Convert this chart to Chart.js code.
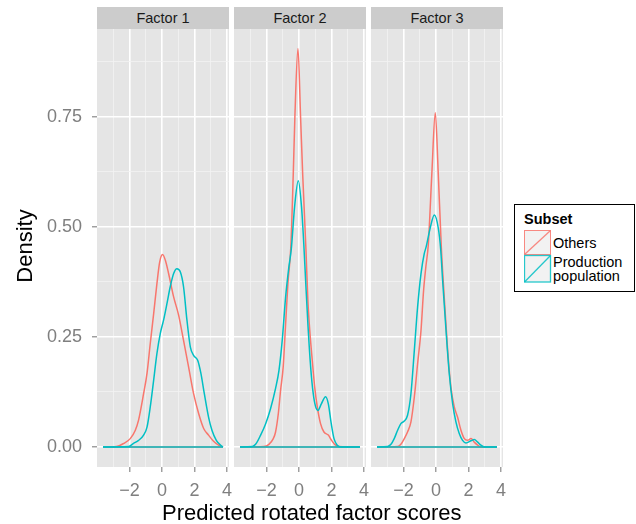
<!DOCTYPE html>
<html>
<head>
<meta charset="utf-8">
<script src="https://cdn.jsdelivr.net/npm/chart.js@4.4.1/dist/chart.umd.min.js"></script>
<style>
  body { margin: 0; background: #fff; font-family: "Liberation Sans", Arial, sans-serif; }
  #page { position: relative; width: 636px; height: 524px; overflow: hidden; }
  .abs { position: absolute; white-space: nowrap; }
  .strip { top: 7px; width: 132px; height: 22px; line-height: 22px; background: #CCCCCC;
           text-align: center; font-size: 14.5px; color: #1A1A1A; }
  .panel { position: absolute; top: 29px; height: 495px; }
  .leg { font-size: 14.5px; line-height: 14.5px; color: #000; }
</style>
</head>
<body>
<div id="page">
  <div class="abs strip" style="left:97px">Factor 1</div>
  <div class="abs strip" style="left:234px">Factor 2</div>
  <div class="abs strip" style="left:371px">Factor 3</div>

  <div class="panel" style="left:0px; width:235px"><canvas id="panel1"></canvas></div>
  <div class="panel" style="left:228px; width:144px"><canvas id="panel2"></canvas></div>
  <div class="panel" style="left:365px; width:144px"><canvas id="panel3"></canvas></div>

  <div class="abs" style="left:-35px; top:235px; width:120px; height:22px; line-height:22px; font-size:22px;
       text-align:center; transform: rotate(-90deg);">Density</div>
  <div class="abs" style="left:162px; top:502px; line-height:22px; font-size:22px;">Predicted rotated factor scores</div>

  <div class="abs" style="left:514px; top:204px; width:121px; height:88px; box-sizing:border-box; border:1.5px solid #000;"></div>
  <div class="abs leg" style="left:524px; top:212px; font-weight:bold;">Subset</div>
  <svg class="abs" style="left:524px; top:230px" width="28" height="53">
    <rect x="0.5" y="0.5" width="26" height="24" fill="#F2F2F2" stroke="#F8766D" stroke-opacity="0.85"/>
    <line x1="0.5" y1="24.5" x2="26.5" y2="0.5" stroke="#F8766D" stroke-width="1.3" stroke-opacity="0.85"/>
    <rect x="0.5" y="25.5" width="26" height="26.5" fill="#F2F2F2" stroke="#00BFC4" stroke-width="1.3" stroke-opacity="0.85"/>
    <line x1="0.5" y1="52" x2="26.5" y2="25.5" stroke="#00BFC4" stroke-width="1.3" stroke-opacity="0.85"/>
  </svg>
  <div class="abs leg" style="left:553px; top:236px;">Others</div>
  <div class="abs leg" style="left:553px; top:254.5px;">Production</div>
  <div class="abs leg" style="left:553px; top:268.8px;">population</div>
</div>

<script>
// facet and series names
const factors = ['Factor 1', 'Factor 2', 'Factor 3'];
const subsets = ['Others', 'Production population'];
const subsetColors = ['#F8766D', '#00BFC4'];

// axis ticks
const xTicks = [-3, -2, -1, 0, 1, 2, 3, 4];
const xMajor = [-2, 0, 2, 4];
const yTicks = [0, 0.125, 0.25, 0.375, 0.5, 0.625, 0.75, 0.875];
const yMajor = [0, 0.25, 0.5, 0.75];
const xRange = [-4.0, 4.13];
const yRange = [-0.0455, 0.9495];

// the density polygons are closed along y = 0 over the whole score range
const baseline = [[-3.63, 0], [3.76, 0]];

// density curves, [score, density]
const f1Others = [[-3.63,0],[-2.8,0.001],[-2.36,0.008],[-1.95,0.019],[-1.64,0.038],[-1.44,0.061],[-1.13,0.121],
  [-0.92,0.167],[-0.72,0.235],[-0.51,0.303],[-0.31,0.371],[-0.14,0.42],[0.04,0.437],[0.21,0.424],[0.41,0.394],
  [0.72,0.341],[1.03,0.299],[1.33,0.242],[1.64,0.182],[1.95,0.121],[2.26,0.076],[2.57,0.042],[2.87,0.027],
  [3.18,0.013],[3.49,0.004],[3.76,0]];
const f1Production = [[-3.63,0],[-2.05,0.001],[-1.75,0.008],[-1.44,0.015],[-1.13,0.027],[-0.92,0.045],[-0.72,0.091],
  [-0.51,0.152],[-0.31,0.212],[-0.10,0.258],[0.10,0.288],[0.31,0.326],[0.51,0.364],[0.72,0.394],[0.92,0.405],
  [1.13,0.398],[1.33,0.364],[1.54,0.288],[1.75,0.227],[1.95,0.208],[2.20,0.197],[2.40,0.167],[2.61,0.121],
  [2.87,0.068],[3.08,0.038],[3.35,0.015],[3.59,0.005],[3.76,0]];

const f2Others = [[-3.63,0],[-2.16,0.001],[-1.85,0.006],[-1.58,0.019],[-1.44,0.034],[-1.27,0.076],[-1.13,0.129],
  [-0.97,0.182],[-0.82,0.28],[-0.68,0.371],[-0.5,0.455],[-0.35,0.62],[-0.25,0.75],[-0.06,0.905],[0.1,0.75],
  [0.23,0.62],[0.43,0.45],[0.55,0.333],[0.68,0.258],[0.82,0.197],[0.97,0.136],[1.13,0.091],[1.33,0.053],
  [1.54,0.034],[1.81,0.027],[2.01,0.015],[2.2,0.006],[2.46,0.001],[3.76,0]];
const f2Production = [[-3.63,0],[-2.87,0.001],[-2.67,0.006],[-2.36,0.027],[-2.05,0.053],[-1.75,0.087],[-1.44,0.133],
  [-1.23,0.174],[-1.03,0.242],[-0.82,0.341],[-0.62,0.409],[-0.47,0.45],[-0.27,0.545],[-0.04,0.605],[0.16,0.545],
  [0.3,0.46],[0.41,0.379],[0.55,0.28],[0.72,0.182],[0.88,0.121],[1.03,0.091],[1.17,0.083],[1.38,0.098],
  [1.64,0.114],[1.81,0.098],[1.99,0.053],[2.16,0.019],[2.36,0.004],[2.57,0],[3.76,0]];

const f3Others = [[-3.63,0],[-2.36,0.001],[-2.16,0.006],[-1.95,0.019],[-1.75,0.034],[-1.54,0.057],[-1.33,0.114],
  [-1.13,0.189],[-0.92,0.265],[-0.76,0.356],[-0.62,0.41],[-0.47,0.46],[-0.25,0.623],[-0.04,0.759],[0.14,0.623],
  [0.33,0.455],[0.51,0.341],[0.72,0.22],[0.92,0.136],[1.13,0.091],[1.33,0.068],[1.54,0.038],[1.75,0.019],
  [1.95,0.015],[2.16,0.019],[2.36,0.011],[2.57,0.004],[2.77,0],[3.76,0]];
const f3Production = [[-3.63,0],[-2.98,0.001],[-2.77,0.006],[-2.57,0.019],[-2.36,0.038],[-2.16,0.053],[-1.95,0.059],
  [-1.75,0.072],[-1.54,0.121],[-1.33,0.22],[-1.13,0.318],[-0.92,0.394],[-0.72,0.439],[-0.6,0.455],[-0.35,0.498],
  [-0.1,0.527],[0.14,0.498],[0.29,0.45],[0.41,0.379],[0.62,0.265],[0.82,0.167],[1.03,0.098],[1.23,0.057],
  [1.44,0.03],[1.64,0.015],[1.85,0.009],[2.16,0.014],[2.36,0.017],[2.57,0.011],[2.77,0.004],[3.0,0],[3.76,0]];

const FONT = '"Liberation Sans", Arial, sans-serif';
const toPoints = (pairs) => pairs.map(p => ({ x: p[0], y: p[1] }));
const fmtX = (v) => (v < 0 ? '\u2212' + Math.abs(v) : String(v));

const panelBackground = {
    id: 'panelBackground',
    beforeDraw(chart) {
        const { ctx, chartArea: a } = chart;
        ctx.save();
        ctx.fillStyle = '#E5E5E5';
        ctx.fillRect(a.left, a.top, a.right - a.left, a.bottom - a.top);
        ctx.restore();
    }
};

function makePanel(canvasId, others, production, showY) {
    const ctx = document.getElementById(canvasId).getContext('2d');
    const isMajor = (list, v) => list.some(m => Math.abs(m - v) < 1e-9);

    // first dataset is drawn last, so the production curve sits on top like in ggplot
    return new Chart(ctx, {
        type: 'line',
        data: {
            datasets: [
                { label: subsets[1], data: toPoints(production), borderColor: subsetColors[1] },
                { label: subsets[1] + ' base', data: toPoints(baseline), borderColor: subsetColors[1] },
                { label: subsets[0], data: toPoints(others), borderColor: subsetColors[0] },
                { label: subsets[0] + ' base', data: toPoints(baseline), borderColor: subsetColors[0] }
            ]
        },
        options: {
            responsive: true,
            maintainAspectRatio: false,
            animation: false,
            events: [],
            layout: { padding: { left: showY ? 0 : 6, right: 6, top: 0, bottom: 0 } },
            elements: {
                point: { radius: 0 },
                line: { borderWidth: 1.5, cubicInterpolationMode: 'monotone', fill: false, borderJoinStyle: 'round' }
            },
            plugins: {
                legend: { display: false },
                tooltip: { enabled: false }
            },
            scales: {
                x: {
                    type: 'linear',
                    min: xRange[0],
                    max: xRange[1],
                    afterBuildTicks: (scale) => { scale.ticks = xTicks.map(v => ({ value: v })); },
                    afterFit: (scale) => {
                        scale.height = 57;
                        scale.paddingLeft = 0; scale.paddingRight = 0;
                        scale.paddingTop = 0; scale.paddingBottom = 0;
                    },
                    border: { display: false },
                    grid: {
                        color: (c) => isMajor(xMajor, c.tick.value) ? '#FFFFFF' : '#F2F2F2',
                        lineWidth: (c) => isMajor(xMajor, c.tick.value) ? 1.6 : 0.8,
                        tickColor: (c) => isMajor(xMajor, c.tick.value) ? '#7F7F7F' : 'rgba(0,0,0,0)',
                        tickWidth: 1.1,
                        tickLength: 5
                    },
                    ticks: {
                        autoSkip: false,
                        maxRotation: 0,
                        padding: 8,
                        color: '#7F7F7F',
                        font: { family: FONT, size: 18 },
                        callback: (v) => isMajor(xMajor, v) ? fmtX(v) : ''
                    }
                },
                y: {
                    min: yRange[0],
                    max: yRange[1],
                    afterBuildTicks: (scale) => { scale.ticks = yTicks.map(v => ({ value: v })); },
                    afterFit: (scale) => {
                        scale.width = showY ? 97 : 0;
                        scale.paddingLeft = 0; scale.paddingRight = 0;
                        scale.paddingTop = 0; scale.paddingBottom = 0;
                    },
                    border: { display: false },
                    grid: {
                        drawTicks: showY,
                        color: (c) => isMajor(yMajor, c.tick.value) ? '#FFFFFF' : '#F2F2F2',
                        lineWidth: (c) => isMajor(yMajor, c.tick.value) ? 1.6 : 0.8,
                        tickColor: (c) => isMajor(yMajor, c.tick.value) ? '#7F7F7F' : 'rgba(0,0,0,0)',
                        tickWidth: 1.1,
                        tickLength: 5
                    },
                    ticks: {
                        display: showY,
                        autoSkip: false,
                        padding: 10,
                        color: '#7F7F7F',
                        font: { family: FONT, size: 18 },
                        callback: (v) => isMajor(yMajor, v) ? v.toFixed(2) : ''
                    }
                }
            }
        },
        plugins: [panelBackground]
    });
}

makePanel('panel1', f1Others, f1Production, true);
makePanel('panel2', f2Others, f2Production, false);
makePanel('panel3', f3Others, f3Production, false);
</script>
</body>
</html>
